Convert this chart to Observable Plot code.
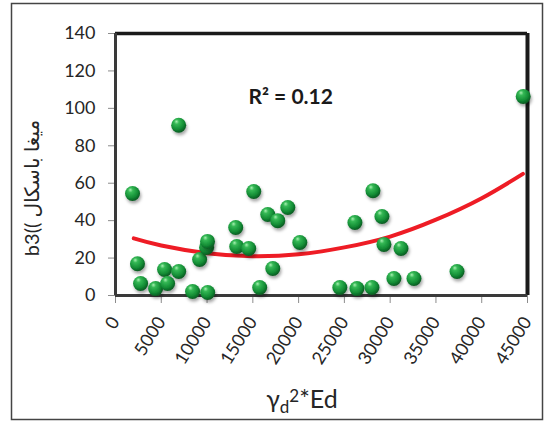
<!DOCTYPE html>
<html>
<head>
<meta charset="utf-8">
<script src="https://cdn.jsdelivr.net/npm/d3@7"></script>
<script src="https://cdn.jsdelivr.net/npm/@observablehq/plot@0.6"></script>
<style>
  html, body { margin: 0; padding: 0; background: #fff; }
  #chart { width: 546px; height: 423px; }
</style>
</head>
<body>
<div id="chart"></div>
<script>
// Scatter data
const xVals = [1860, 2400, 2740, 4380, 5360, 5690, 6900, 6900, 8420, 9190, 9950, 10050, 10070, 13130, 13240, 14550, 15100, 15750, 16630, 17720, 17180, 18820, 20130, 24500, 26150, 26370, 28120, 28010, 29100, 29320, 31180, 30410, 32600, 37300, 44530];
const yVals = [54.5, 17, 6.4, 3.7, 13.9, 6.4, 12.8, 91, 2.1, 19.2, 25.7, 28.9, 1.6, 36.3, 26.2, 25.1, 55.6, 4.3, 43.3, 40, 14.4, 47, 28.3, 4.3, 39, 3.7, 56, 4.3, 42.2, 27.3, 25.1, 9.1, 9.1, 12.8, 106.4];

// Trend line
const trendX = [2000, 5000, 10000, 15000, 20000, 25000, 30000, 35000, 40000, 44500];
const trendY = [30.5, 26.7, 22.6, 21, 22, 25.7, 31.5, 40.5, 52, 65];

// Ticks
const xTicks = [0, 5000, 10000, 15000, 20000, 25000, 30000, 35000, 40000, 45000];
const yTicks = [0, 20, 40, 60, 80, 100, 120, 140];

const annotation = "R² = 0.12";
const yLabel = "b3(( میغا باسکال";

const points = xVals.map((x, i) => ({x, y: yVals[i]}));
const trend = trendX.map((x, i) => ({x, y: trendY[i]}));

const svg = Plot.plot({
  width: 546,
  height: 423,
  marginLeft: 115,
  marginRight: 19,
  marginTop: 33,
  marginBottom: 128,
  style: {fontFamily: "Lato, 'DejaVu Sans', sans-serif", fontSize: "18px", color: "#262626", background: "#fff"},
  x: {domain: [0, 45000]},
  y: {domain: [0, 140]},
  marks: [
    Plot.axisY({ticks: yTicks, tickSize: 7, tickPadding: 13, stroke: "#8c8c8c", fill: "#262626", fontSize: 18, label: null}),
    Plot.axisX({ticks: xTicks, tickSize: 8, tickPadding: 15, tickRotate: -58, stroke: "#8c8c8c", fill: "#262626", fontSize: 18, tickFormat: d => String(d), label: null}),
    Plot.ruleY([140], {stroke: "#1a1a1a", strokeWidth: 3.5}),
    Plot.ruleX([45000], {stroke: "#1a1a1a", strokeWidth: 4}),
    Plot.ruleX([0], {stroke: "#3a3a3a", strokeWidth: 3}),
    Plot.ruleY([0], {stroke: "#3a3a3a", strokeWidth: 3}),
    Plot.line(trend, {x: "x", y: "y", stroke: "#ee1c25", strokeWidth: 4, curve: "natural"}),
    Plot.dot(points, {x: "x", y: "y", r: 7.5, fill: "url(#sphereGrad)", stroke: "none", className: "spheres"}),
    Plot.text([annotation], {frameAnchor: "top-left", dx: 133, dy: 56, textAnchor: "start", fontWeight: "bold", fontSize: 21, fill: "#1a1a1a"})
  ]
});

const s = d3.select(svg);
const defs = s.insert("defs", ":first-child");
const g = defs.append("radialGradient").attr("id", "sphereGrad")
  .attr("cx", "40%").attr("cy", "35%").attr("r", "65%").attr("fx", "35%").attr("fy", "25%");
g.append("stop").attr("offset", "0%").attr("stop-color", "#a6f0b0");
g.append("stop").attr("offset", "25%").attr("stop-color", "#35b855");
g.append("stop").attr("offset", "70%").attr("stop-color", "#138d35");
g.append("stop").attr("offset", "100%").attr("stop-color", "#0a5a22");
const f = defs.append("filter").attr("id", "dropShadow").attr("x", "-50%").attr("y", "-50%").attr("width", "200%").attr("height", "200%");
f.append("feDropShadow").attr("dx", 1.2).attr("dy", 2.5).attr("stdDeviation", 1.4)
  .attr("flood-color", "#000").attr("flood-opacity", 0.35);
s.selectAll(".spheres circle").attr("filter", "url(#dropShadow)");

// outer chart border
s.append("rect").attr("x", 11.5).attr("y", 3.5).attr("width", 531).attr("height", 416)
  .attr("fill", "none").attr("stroke", "#444").attr("stroke-width", 1.5);

// y axis label
s.append("text")
  .attr("transform", "translate(34,188) rotate(-90)")
  .attr("text-anchor", "middle")
  .attr("dominant-baseline", "middle")
  .attr("font-size", 20)
  .attr("fill", "#262626")
  .text(yLabel);

// x axis label
const xl = s.append("text")
  .attr("x", 302).attr("y", 408)
  .attr("text-anchor", "middle")
  .attr("font-size", 25)
  .attr("fill", "#262626");
xl.append("tspan").text("γ");
xl.append("tspan").attr("dy", 5).attr("font-size", 17).text("d");
xl.append("tspan").attr("dy", -11).attr("font-size", 17).text("2");
xl.append("tspan").attr("dy", 6).text("*Ed");

document.getElementById("chart").appendChild(svg);
</script>
</body>
</html>
